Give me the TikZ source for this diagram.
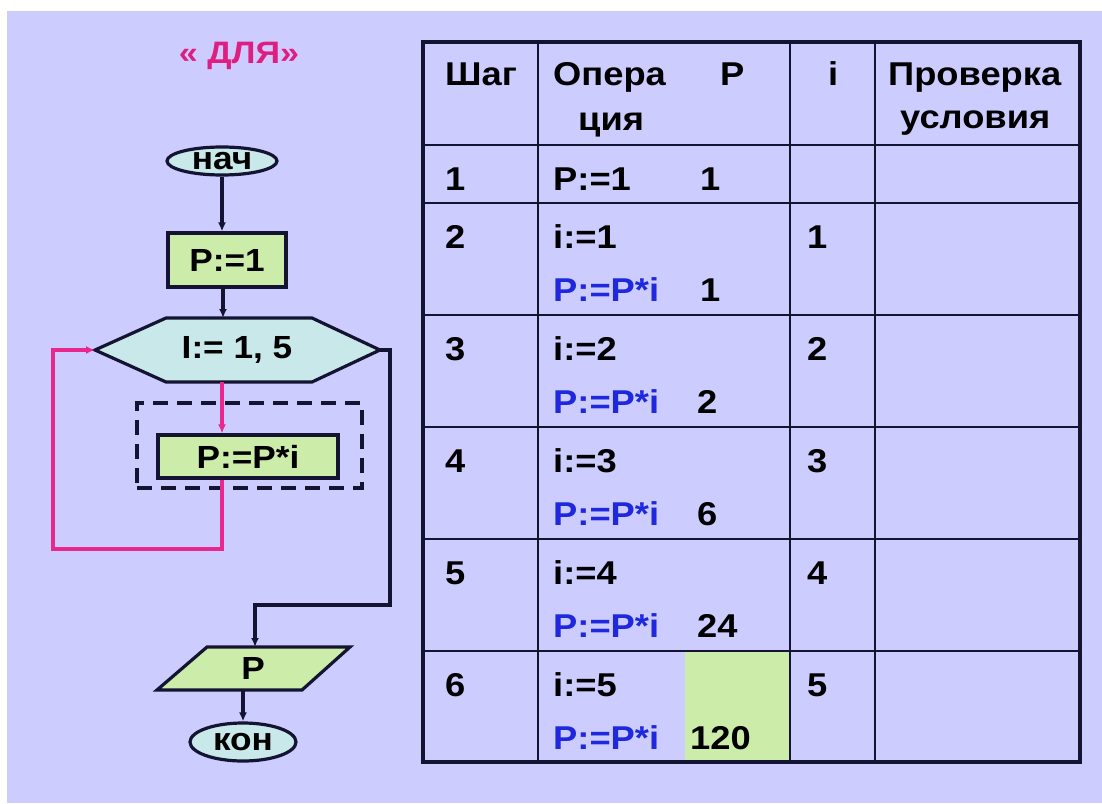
\documentclass[tikz,border=0pt]{standalone}
\usepackage{fontspec}
\setmainfont{Liberation Sans}[FakeStretch=1.1]
\usetikzlibrary{shapes.geometric,arrows.meta}

\definecolor{bglav}{RGB}{204,204,255}
\definecolor{termfill}{RGB}{200,232,234}
\definecolor{procfill}{RGB}{204,236,170}
\definecolor{inkline}{RGB}{20,20,50}
\definecolor{loopline}{RGB}{232,40,140}
\definecolor{titlecol}{RGB}{222,30,128}
\definecolor{opblue}{RGB}{30,40,220}

\tikzset{
  flowtxt/.style={font=\fontsize{32}{38}\selectfont\bfseries, text=black},
  tabtxt/.style={font=\fontsize{33}{38}\selectfont\bfseries, text=black, anchor=base west, inner sep=0pt},
  optxt/.style={tabtxt, text=opblue},
  term/.style={ellipse, draw=inkline, line width=3.2pt, fill=termfill, inner sep=0pt, flowtxt},
  proc/.style={rectangle, draw=inkline, line width=3.2pt, fill=procfill, inner sep=0pt, flowtxt},
  flow/.style={draw=inkline, line width=3.2pt, -{Latex[length=9pt,width=8pt]}},
  flowplain/.style={draw=inkline, line width=3.2pt},
  loopflow/.style={draw=loopline, line width=3.2pt, -{Latex[length=9pt,width=8pt]}},
  grid/.style={draw=inkline, line width=2.5pt},
}

\begin{document}
\begin{tikzpicture}[x=1pt, y=-1pt]
  \useasboundingbox (0,0) rectangle (1102,803);
  \fill[white] (0,0) rectangle (1102,803);
  \fill[bglav] (7,11) rectangle (1102,803);

  % ---- title ----
  \node[font=\fontsize{31}{38}\selectfont\bfseries, text=titlecol] (title) at (239,56) {« ДЛЯ»};

  % ---- flowchart ----
  \node[term, minimum width=110pt, minimum height=28pt] (start) at (222,161) {нач};
  \node[proc, minimum width=118pt, minimum height=54pt] (init) at (227,260) {P:=1};

  % loop header (hexagon)
  \coordinate (hl) at (95,350);
  \coordinate (hr) at (380,350);
  \coordinate (ht) at (223,318);
  \coordinate (hb) at (222,382);
  \draw[flowplain, fill=termfill, line join=miter]
    (hl) -- (166,318) -- (312,318) -- (hr) -- (312,382) -- (166,382) -- cycle;
  \node[flowtxt] (hex) at (237,350) {I:= 1, 5};

  % loop body
  \node[draw=inkline, line width=3.2pt, dash pattern=on 15pt off 9pt,
        minimum width=225pt, minimum height=85pt, inner sep=0pt] (body) at (249.5,445.5) {};
  \node[proc, minimum width=180pt, minimum height=43pt] (mult) at (248,456.5) {P:=P*i};

  % output parallelogram
  \coordinate (pt) at (255,647);
  \coordinate (pb) at (243,690);
  \draw[flowplain, fill=procfill, line join=miter]
    (207,647) -- (350,647) -- (302,690) -- (157,690) -- cycle;
  \node[flowtxt] (out) at (253,668) {P};

  \node[term, minimum width=106pt, minimum height=38pt] (stop) at (243,742) {кон};

  % connectors
  \draw[flow] (start.south) -- (start.south |- init.north);
  \draw[flow] (init.south -| ht) -- (ht);
  \draw[loopflow] (hb) -- (hb |- mult.north);
  \coordinate (lp1) at (222,549);
  \coordinate (lp2) at (53,549);
  \draw[loopflow] (mult.south -| hb) -- (lp1) -- (lp2) |- (hl);
  \coordinate (ex1) at (390,350);
  \coordinate (ex2) at (390,605);
  \draw[flow] (hr) -- (ex1) -- (ex2) -| (pt);
  \draw[flow] (pb) -- (pb |- stop.north);

  % ---- trace table ----
  \fill[procfill] (685,651) rectangle (790,762);
  \foreach \yy in {145,203,315,427,539,651}
    \draw[grid] (423,\yy) -- (1080,\yy);
  \foreach \xx in {538,790,875}
    \draw[grid] (\xx,42) -- (\xx,762);
  \draw[draw=inkline, line width=3.5pt] (423,42) rectangle (1080,762);

  % header
  \node[tabtxt] (hstep) at (445,85) {Шаг};
  \node[tabtxt] (hop1) at (553,85) {Опера};
  \node[tabtxt] (hop2) at (578,130) {ция};
  \node[tabtxt] (hp) at (720,85) {P};
  \node[tabtxt] (hi) at (828,85) {i};
  \node[tabtxt] (hc1) at (888,85) {Проверка};
  \node[tabtxt] (hc2) at (900,128) {условия};

  % row 1
  \node[tabtxt] (s1) at (445,190) {1};
  \node[tabtxt] (o1) at (553,190) {P:=1};
  \node[tabtxt] (p1) at (700,190) {1};

  % rows 2..6
  \foreach \n/\top/\iv in {2/203/1, 3/315/2, 4/427/3, 5/539/4, 6/651/5}{
    \node[tabtxt] (s\n) at (445,\top+45) {\n};
    \node[tabtxt] (oi\n) at (553,\top+45) {i:=\iv};
    \node[tabtxt] (iv\n) at (807,\top+45) {\iv};
    \node[optxt] (op\n) at (553,\top+98) {P:=P*i};
  }
  \node[tabtxt] (pv2) at (700,301) {1};
  \node[tabtxt] (pv3) at (697,413) {2};
  \node[tabtxt] (pv4) at (697,525) {6};
  \node[tabtxt] (pv5) at (697,637) {24};
  \node[tabtxt] (pv6) at (690,749) {120};
\end{tikzpicture}
\end{document}
